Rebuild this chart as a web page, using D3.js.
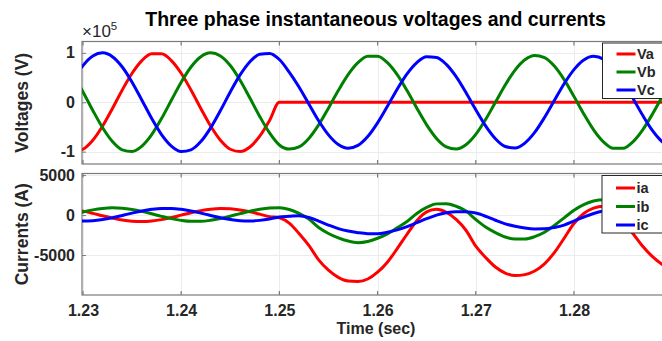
<!DOCTYPE html>
<html>
<head>
<meta charset="utf-8">
<script src="https://cdn.jsdelivr.net/npm/d3@7"></script>
<style>
  body { margin: 0; background: #fff; }
  svg { display: block; font-family: "Liberation Sans", Arial, sans-serif; }
</style>
</head>
<body>
<svg id="chart"></svg>
<script>
// time samples (s), 1 ms step
const time = [
  1.229, 1.230, 1.231, 1.232, 1.233, 1.234, 1.235, 1.236, 1.237, 1.238,
  1.239, 1.240, 1.241, 1.242, 1.243, 1.244, 1.245, 1.246, 1.247, 1.248,
  1.249, 1.250, 1.251, 1.252, 1.253, 1.254, 1.255, 1.256, 1.257, 1.258,
  1.259, 1.260, 1.261, 1.262, 1.263, 1.264, 1.265, 1.266, 1.267, 1.268,
  1.269, 1.270, 1.271, 1.272, 1.273, 1.274, 1.275, 1.276, 1.277, 1.278,
  1.279, 1.280, 1.281, 1.282, 1.283, 1.284, 1.285, 1.286, 1.287, 1.288,
  1.289, 1.290
];

// phase voltages (x10^5 V)
const va = [
  -0.998, -0.951, -0.770, -0.482, -0.125, 0.249, 0.588, 0.844, 0.982, 0.982,
  0.844, 0.588, 0.249, -0.125, -0.482, -0.770, -0.951, -0.998, -0.905, -0.685,
  -0.368, 0, 0, 0, 0, 0, 0, 0, 0, 0,
  0, 0, 0, 0, 0, 0, 0, 0, 0, 0,
  0, 0, 0, 0, 0, 0, 0, 0, 0, 0,
  0, 0, 0, 0, 0, 0, 0, 0, 0, 0,
  0, 0
];
const vb = [
  0.555, 0.210, -0.165, -0.516, -0.795, -0.963, -0.995, -0.887, -0.655, -0.331,
  0.040, 0.405, 0.713, 0.921, 1.000, 0.938, 0.744, 0.446, 0.085, -0.287,
  -0.620, -0.865, -0.948, -0.903, -0.732, -0.458, -0.119, 0.237, 0.559, 0.802,
  0.933, 0.933, 0.802, 0.559, 0.237, -0.119, -0.458, -0.732, -0.903, -0.948,
  -0.860, -0.651, -0.350, 0, 0.350, 0.651, 0.860, 0.948, 0.903, 0.732,
  0.458, 0.119, -0.237, -0.559, -0.802, -0.933, -0.933, -0.802, -0.559, -0.237,
  0.119, 0.458
];
const vc = [
  0.445, 0.743, 0.937, 1.000, 0.922, 0.714, 0.407, 0.042, -0.329, -0.653,
  -0.886, -0.995, -0.963, -0.797, -0.518, -0.167, 0.208, 0.553, 0.821, 0.974,
  0.989, 0.866, 0.611, 0.309, -0.035, -0.375, -0.661, -0.856, -0.930, -0.873,
  -0.694, -0.417, -0.082, 0.265, 0.575, 0.804, 0.920, 0.907, 0.766, 0.518,
  0.197, -0.151, -0.478, -0.738, -0.895, -0.925, -0.826, -0.611, -0.309, 0.035,
  0.375, 0.661, 0.856, 0.930, 0.873, 0.694, 0.417, 0.082, -0.265, -0.575,
  -0.804, -0.920
];

// phase currents (A)
const ia = [
  698, 490, 214, -93, -386, -626, -777, -819, -746, -568,
  -311, -10, 293, 554, 738, 818, 783, 638, 404, 113,
  -194, -350, -1000, -2300, -3800, -5600, -6900, -7800, -8250, -8300,
  -8000, -7150, -5900, -4200, -2400, -700, 400, 720, 350, -550,
  -1900, -3900, -5300, -6500, -7250, -7570, -7450, -7000, -6100, -4700,
  -2900, -1050, 200, 870, 1100, 500, -800, -2300, -3900, -5200,
  -6200, -7000
];
const ib = [
  70, 382, 649, 834, 909, 865, 709, 460, 156, -162,
  -448, -663, -777, -773, -652, -431, -141, 177, 478, 721,
  872, 907, 700, 200, -500, -1550, -2300, -2850, -3250, -3450,
  -3300, -2900, -2350, -1600, -800, 200, 950, 1400, 1430, 1100,
  500, -550, -1500, -2200, -2750, -3000, -3000, -2700, -2150, -1300,
  -350, 600, 1300, 1750, 1920, 1750, 1250, 500, -400, -1250,
  -1900, -2400
];
const ic = [
  -665, -738, -701, -558, -331, -49, 247, 515, 717, 826,
  826, 717, 515, 247, -49, -331, -558, -701, -738, -665,
  -491, -241, -150, -70, -300, -750, -1250, -1700, -2000, -2200,
  -2330, -2350, -2150, -1850, -1450, -950, -450, 0, 300, 430,
  420, 250, -150, -650, -1100, -1400, -1620, -1730, -1720, -1550,
  -1250, -750, -250, 200, 500, 620, 550, 300, -50, -450,
  -850, -1200
];

const xTicks = [1.23, 1.24, 1.25, 1.26, 1.27, 1.28];
const vTicks = [-1, 0, 1];
const iTicks = [-5000, 0, 5000];
const colors = ["#ff0000", "#008000", "#0000ff"];

const width = 662, height = 341;
const textColor = "#262626";

const svg = d3.select("#chart")
    .attr("width", width)
    .attr("height", height)
    .attr("viewBox", [0, 0, width, height]);

svg.append("rect").attr("width", width).attr("height", height).attr("fill", "#fff");

// x scale shared by both panels (right edge runs past the picture)
const x = d3.scaleLinear().domain([1.2299, 1.2892]).range([82, 664.3]);

// plain hyphen for negative labels, like the original
const plain = d => String(d);

const panels = [
    {
        id: "volt",
        y: d3.scaleLinear().domain([-1.25, 1.23]).range([164, 41.5]),
        ticks: vTicks,
        label: "Voltages (V)",
        series: [["Va", va], ["Vb", vb], ["Vc", vc]],
        legend: { x: 602.5, y: 43, h: 55.5, rows: [54, 72, 90] }
    },
    {
        id: "curr",
        y: d3.scaleLinear().domain([-10000, 5200]).range([295, 173.5]),
        ticks: iTicks,
        label: "Currents (A)",
        series: [["ia", ia], ["ib", ib], ["ic", ic]],
        legend: { x: 602, y: 175.5, h: 57.5, rows: [188, 206.5, 225] }
    }
];

panels.forEach(p => {
    const [y0, y1] = p.y.range(); // bottom, top
    const left = x.range()[0], right = x.range()[1];

    // clip
    svg.append("clipPath").attr("id", "clip-" + p.id)
        .append("rect")
        .attr("x", left).attr("y", y1)
        .attr("width", right - left).attr("height", y0 - y1);

    // grid
    const grid = svg.append("g").attr("stroke", "#ececec").attr("stroke-width", 1);
    grid.selectAll(".gx").data(xTicks).join("line")
        .attr("x1", d => Math.round(x(d)) + 0.5).attr("x2", d => Math.round(x(d)) + 0.5)
        .attr("y1", y1).attr("y2", y0);
    grid.selectAll(".gy").data(p.ticks).join("line")
        .attr("x1", left).attr("x2", right)
        .attr("y1", d => Math.round(p.y(d)) + 0.5).attr("y2", d => Math.round(p.y(d)) + 0.5);

    // box
    svg.append("rect")
        .attr("x", left).attr("y", y1)
        .attr("width", right - left).attr("height", y0 - y1)
        .attr("fill", "none").attr("stroke", "#7a7a7a").attr("stroke-width", 1.2);

    // y axis (ticks inward)
    const yAxis = svg.append("g")
        .attr("transform", `translate(${left},0)`)
        .call(d3.axisLeft(p.y).tickValues(p.ticks).tickFormat(plain)
            .tickSize(-4).tickPadding(7));
    yAxis.select(".domain").remove();
    yAxis.selectAll("line").attr("stroke", "#7a7a7a");
    yAxis.selectAll("text")
        .attr("font-size", 16).attr("font-weight", "bold")
        .attr("fill", textColor).attr("font-family", null);

    // x tick marks on top and bottom edges
    const tickG = svg.append("g").attr("stroke", "#7a7a7a").attr("stroke-width", 1.2);
    tickG.selectAll(".tb").data(xTicks).join("line")
        .attr("x1", d => x(d)).attr("x2", d => x(d))
        .attr("y1", y0).attr("y2", y0 - 4);
    tickG.selectAll(".tt").data(xTicks).join("line")
        .attr("x1", d => x(d)).attr("x2", d => x(d))
        .attr("y1", y1).attr("y2", y1 + 4);

    // lines
    const line = d3.line()
        .curve(d3.curveMonotoneX)
        .x((d, i) => x(time[i]))
        .y(d => p.y(d));

    svg.append("g").attr("clip-path", `url(#clip-${p.id})`)
        .selectAll("path").data(p.series).join("path")
        .attr("fill", "none")
        .attr("stroke", (d, i) => colors[i])
        .attr("stroke-width", 3)
        .attr("stroke-linejoin", "round")
        .attr("d", d => line(d[1]));

    // y label
    svg.append("text")
        .attr("transform", `translate(28,${(y0 + y1) / 2}) rotate(-90)`)
        .attr("text-anchor", "middle")
        .attr("font-size", 17.5).attr("font-weight", "bold")
        .attr("fill", textColor)
        .text(p.label);

    // legend
    const lg = svg.append("g");
    lg.append("rect")
        .attr("x", p.legend.x).attr("y", p.legend.y)
        .attr("width", 80).attr("height", p.legend.h)
        .attr("fill", "#fff").attr("stroke", "#262626").attr("stroke-width", 1);
    const rows = lg.selectAll(".row").data(p.series).join("g")
        .attr("transform", (d, i) => `translate(0,${p.legend.rows[i]})`);
    rows.append("line")
        .attr("x1", p.legend.x + 14).attr("x2", p.legend.x + 33)
        .attr("stroke", (d, i) => colors[i]).attr("stroke-width", 3);
    rows.append("text")
        .attr("x", p.legend.x + 34.5)
        .attr("dy", "0.36em")
        .attr("font-size", 14.5).attr("font-weight", "bold")
        .attr("fill", textColor)
        .text(d => d[0]);
});

// x axis labels under the current panel
const xAxis = svg.append("g")
    .attr("transform", "translate(0,295)")
    .call(d3.axisBottom(x).tickValues(xTicks).tickFormat(d3.format(".2f"))
        .tickSize(0).tickPadding(10));
xAxis.select(".domain").remove();
xAxis.selectAll("text")
    .attr("font-size", 16).attr("font-weight", "bold")
    .attr("fill", textColor).attr("font-family", null);

svg.append("text")
    .attr("x", 376).attr("y", 334)
    .attr("text-anchor", "middle")
    .attr("font-size", 16).attr("font-weight", "bold")
    .attr("fill", textColor)
    .text("Time (sec)");

// exponent label
const expo = svg.append("text")
    .attr("x", 82).attr("y", 37)
    .attr("font-size", 17)
    .attr("fill", textColor);
expo.append("tspan").text("×10");
expo.append("tspan").attr("dy", -7).attr("font-size", 11.5).text("5");

// title
svg.append("text")
    .attr("x", 375.5).attr("y", 26)
    .attr("text-anchor", "middle")
    .attr("font-size", 19.5).attr("font-weight", "bold")
    .attr("fill", "#000")
    .text("Three phase instantaneous voltages and currents");
</script>
</body>
</html>
